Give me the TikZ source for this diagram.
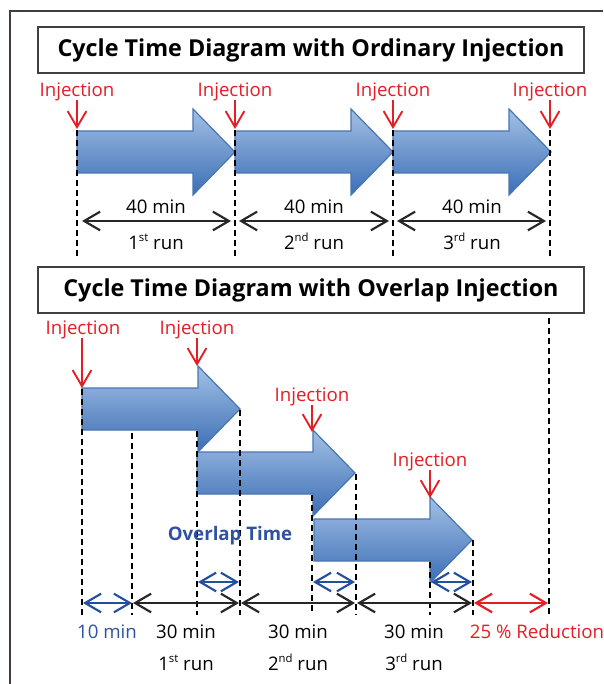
\documentclass[tikz,border=0pt]{standalone}
\usepackage{fontspec}
\setmainfont{Open Sans}
\usetikzlibrary{arrows.meta}
\definecolor{injred}{RGB}{227,30,36}
\definecolor{arrtop}{RGB}{162,192,228}
\definecolor{arrbot}{RGB}{60,110,182}
\definecolor{arrborder}{RGB}{72,118,178}
\definecolor{ovblue}{RGB}{36,78,158}
\definecolor{txtblue}{RGB}{46,82,160}
\definecolor{framecol}{RGB}{70,60,60}
\newcommand\supr[1]{\raisebox{0.45em}{\fontsize{8.5}{9}\selectfont #1}}
\newcommand\bigarrow[2]{%
  \path[arrowfill] (#1,#2-21) -- (#1+116,#2-21) -- (#1+116,#2-43) -- (#1+158,#2)
    -- (#1+116,#2+43) -- (#1+116,#2+21) -- (#1,#2+21) -- cycle;}
\begin{document}
\begin{tikzpicture}[x=0.75pt,y=-0.75pt,
  >={Straight Barb[length=12pt,width=14pt]},
  lbl/.style={inner sep=0pt, text height=10pt, text depth=0pt, font=\fontsize{14}{16}\selectfont},
  injlbl/.style={lbl, text=injred},
  titlebox/.style={draw=black!75, line width=1.1pt, minimum width=409.5pt, minimum height=34.5pt,
     inner sep=0pt, font=\bfseries\fontsize{17.5}{20}\selectfont},
  arrowfill/.style={top color=arrtop, bottom color=arrbot, draw=arrborder, line width=0.9pt},
  injarrow/.style={draw=injred, line width=1.4pt, ->},
  dashline/.style={draw=black, line width=0.9pt, dash pattern=on 4.5pt off 3pt},
  dimarrow/.style={draw=black!85, line width=1.6pt, <->},
  ovarrow/.style={draw=ovblue, line width=1.6pt, <->},
  redarrow/.style={draw=injred, line width=1.6pt, <->}]
\useasboundingbox (0,0) rectangle (603,684);
% outer frame
\draw[framecol, line width=1.2pt] (603,11) -- (10,11) -- (10,684);

% ================= Ordinary injection =================
\node[titlebox] (title1) at (311,50) {Cycle Time Diagram with Ordinary Injection};

\bigarrow{77}{152}
\bigarrow{235}{152}
\bigarrow{393}{152}

\foreach \n/\x in {a/77,b/235,c/393,d/550}{
  \node[injlbl] (inj1\n) at (\x,90) {Injection};
  \coordinate (s1\n) at (\x,100);
  \coordinate (e1\n) at (\x,129);
  \coordinate (dt1\n) at (\x,130);
  \coordinate (db1\n) at (\x,260);
  \draw[injarrow] (s1\n) -- (e1\n);
  \draw[dashline] (dt1\n) -- (db1\n);
}
\coordinate (m1a) at (82,221);  \coordinate (m1b) at (231,221);
\coordinate (m2a) at (239,221); \coordinate (m2b) at (389,221);
\coordinate (m3a) at (397,221); \coordinate (m3b) at (546,221);
\draw[dimarrow] (m1a) -- (m1b);
\draw[dimarrow] (m2a) -- (m2b);
\draw[dimarrow] (m3a) -- (m3b);
\node[lbl] (t40a) at (156,207) {40 min};
\node[lbl] (t40b) at (314,207) {40 min};
\node[lbl] (t40c) at (472,207) {40 min};
\node[lbl] (r1a) at (156,243) {1\supr{st} run};
\node[lbl] (r2a) at (314,243) {2\supr{nd} run};
\node[lbl] (r3a) at (472,243) {3\supr{rd} run};

% ================= Overlap injection =================
\node[titlebox] (title2) at (311,290) {Cycle Time Diagram with Overlap Injection};

\bigarrow{82}{409}
\bigarrow{197}{473}
\bigarrow{314}{540}

\node[injlbl] (inj2a) at (83,328) {Injection};
\node[injlbl] (inj2b) at (197,328) {Injection};
\node[injlbl] (inj2c) at (312,395) {Injection};
\node[injlbl] (inj2d) at (430,460) {Injection};
\coordinate (s2a) at (82,338);  \coordinate (e2a) at (82,388);
\coordinate (s2b) at (197,338); \coordinate (e2b) at (197,366);
\coordinate (s2c) at (312,405); \coordinate (e2c) at (312,432);
\coordinate (s2d) at (430,470); \coordinate (e2d) at (430,498);
\draw[injarrow] (s2a) -- (e2a);
\draw[injarrow] (s2b) -- (e2b);
\draw[injarrow] (s2c) -- (e2c);
\draw[injarrow] (s2d) -- (e2d);

% dashed guide lines
\foreach \n/\x/\y in {a/82/389, b/132/433, c/197/431, d/240/410, e/312/495, f/356/474, g/430/562, h/473/540, i/549/318}{
  \coordinate (gt\n) at (\x,\y);
  \coordinate (gb\n) at (\x,615);
  \draw[dashline] (gt\n) -- (gb\n);
}

\node[lbl, text=txtblue, font=\bfseries\fontsize{14}{16}\selectfont] (ovl) at (230,534) {Overlap Time};

% overlap arrows
\coordinate (o1a) at (198,582); \coordinate (o1b) at (239,582);
\coordinate (o2a) at (313,582); \coordinate (o2b) at (355,582);
\coordinate (o3a) at (431,582); \coordinate (o3b) at (472,582);
\draw[ovarrow] (o1a) -- (o1b);
\draw[ovarrow] (o2a) -- (o2b);
\draw[ovarrow] (o3a) -- (o3b);

% bottom timeline
\coordinate (b0) at (83,603);
\coordinate (b1) at (132,603);
\coordinate (b1r) at (133,603);
\coordinate (b2) at (239,603);
\coordinate (b2r) at (241,603);
\coordinate (b3) at (355,603);
\coordinate (b3r) at (357,603);
\coordinate (b4) at (472,603);
\coordinate (b4r) at (474,603);
\coordinate (b5) at (548,603);
\draw[ovarrow] (b0) -- (b1);
\draw[dimarrow] (b1r) -- (b2);
\draw[dimarrow] (b2r) -- (b3);
\draw[dimarrow] (b3r) -- (b4);
\draw[redarrow] (b4r) -- (b5);

\node[lbl, text=txtblue] (ten) at (107,632) {10 min};
\node[lbl] (t30a) at (186,632) {30 min};
\node[lbl] (t30b) at (298,632) {30 min};
\node[lbl] (t30c) at (414,632) {30 min};
\node[lbl, text=injred] (red) at (537,632) {25 \% Reduction};
\node[lbl] (r1b) at (186,664) {1\supr{st} run};
\node[lbl] (r2b) at (298,664) {2\supr{nd} run};
\node[lbl] (r3b) at (414,664) {3\supr{rd} run};
\end{tikzpicture}
\end{document}
